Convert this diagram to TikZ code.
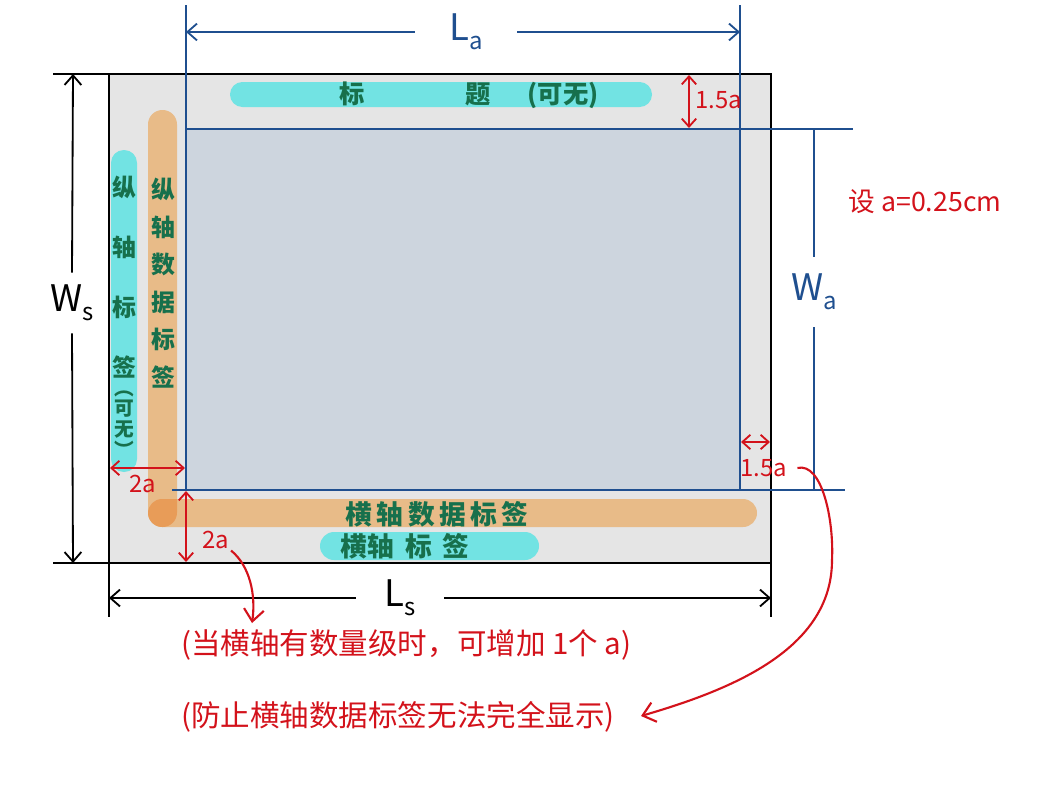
\documentclass[tikz,border=0pt]{standalone}
\usepackage{fontspec}
\setmainfont{Noto Sans CJK SC}
\usetikzlibrary{arrows.meta}
\definecolor{figgray}   {HTML}{E5E5E5}
\definecolor{plotgray}  {HTML}{CDD5DE}
\definecolor{axblue}    {HTML}{1F4F8F}
\definecolor{notered}   {HTML}{D3121B}
\definecolor{labgreen}  {HTML}{17704C}
\definecolor{barcyan}   {HTML}{72E3E3}
\definecolor{barorange} {HTML}{E8BB88}
\definecolor{cornerorg} {HTML}{E89C58}
\newcommand{\fsize}[1]{\fontsize{#1}{#1}\selectfont}
\newcommand{\dimsub}[2]{#1\raisebox{-0.25em}{\fsize{17}#2}}
\tikzset{
  frameline/.style ={draw=black, line width=1.6pt},
  axline/.style    ={draw=axblue, line width=1.3pt},
  bluehalf/.style  ={axline, -{Straight Barb[length=2.4mm,width=4.2mm]}},
  blackhalf/.style ={draw=black, line width=1.3pt, -{Straight Barb[length=2.4mm,width=4.2mm]}},
  reddim/.style    ={draw=notered, line width=1.3pt,
                     {Straight Barb[length=2mm,width=3.6mm]}-{Straight Barb[length=2mm,width=3.6mm]}},
  redcurve/.style  ={draw=notered, line width=1.5pt, -{Straight Barb[length=3mm,width=5mm]}},
  dimlab/.style    ={inner sep=0pt, font=\fsize{26}},
  redlab/.style    ={text=notered, inner sep=1pt, font=\fsize{17}},
  greenlab/.style  ={text=labgreen, inner sep=0pt},
  notetext/.style  ={text=notered, inner sep=0pt, font=\fsize{21}},
}
\begin{document}
\begin{tikzpicture}[x=0.025cm,y=-0.025cm]
  \useasboundingbox (0,0) rectangle (1057,789);

  % figure and plot area
  \coordinate (sNW) at (109,74);
  \coordinate (sNE) at (771,74);
  \coordinate (sSW) at (109,563);
  \coordinate (sSE) at (771,563);
  \coordinate (aNW) at (186,129);
  \coordinate (aNE) at (740,129);
  \coordinate (aSW) at (186,490);
  \coordinate (aSE) at (740,490);
  \fill[figgray] (sNW) rectangle (sSE);
  \fill[plotgray] (aNW) rectangle (aSE);

  % label bars
  \fill[barcyan,rounded corners=3.1mm] (230,82) rectangle (652,107);
  \fill[barcyan,rounded corners=3.2mm] (111,150) rectangle (137,472);
  \fill[barorange,rounded corners=3.6mm] (148,110) rectangle (177,527);
  \fill[barorange,rounded corners=3.5mm] (148,499) rectangle (757,527);
  \begin{scope}
    \clip[rounded corners=3.6mm] (148,110) rectangle (177,527);
    \fill[cornerorg,rounded corners=3.5mm] (148,499) rectangle (757,527);
  \end{scope}
  \fill[barcyan,rounded corners=3.5mm] (320,532) rectangle (539,560);

  % frame with extension lines
  \coordinate (wsTopExt) at (53,74);
  \coordinate (wsBotExt) at (53,563);
  \coordinate (lsLeftExt) at (109,617);
  \coordinate (lsRightExt) at (771,617);
  \draw[frameline] (sNW) rectangle (sSE);
  \draw[frameline] (wsTopExt) -- (sNW) (wsBotExt) -- (sSW)
                   (sSW) -- (lsLeftExt) (sSE) -- (lsRightExt);

  % plot box with extension lines
  \coordinate (laLeftExt) at (186,5);
  \coordinate (laRightExt) at (740,5);
  \coordinate (waTopExt) at (853,129);
  \coordinate (waBotExt) at (845,490);
  \coordinate (aSWExt) at (172,490);
  \draw[axline] (aNW) rectangle (aSE);
  \draw[axline] (laLeftExt) -- (aNW) (laRightExt) -- (aNE)
                (aNE) -- (waTopExt) (aSWExt) -- (aSE) -- (waBotExt);

  % L_a
  \coordinate (laL) at (186,32);
  \coordinate (laR) at (740,32);
  \node[dimlab,text=axblue,minimum width=2.55cm] (la) at (466,32) {\dimsub{L}{a}};
  \draw[bluehalf] (la.west) -- (laL);
  \draw[bluehalf] (la.east) -- (laR);

  % W_a
  \coordinate (waT) at (814,129);
  \coordinate (waB) at (814,490);
  \node[dimlab,text=axblue,minimum height=1.75cm] (wa) at (814,292) {\dimsub{W}{a}};
  \draw[axline] (wa.north) -- (waT);
  \draw[axline] (wa.south) -- (waB);

  % W_s
  \coordinate (wsT) at (73,74);
  \coordinate (wsB) at (73,563);
  \node[dimlab,minimum height=1.5cm] (ws) at (72,303) {\dimsub{W}{s}};
  \draw[blackhalf] (ws.north) -- (wsT);
  \draw[blackhalf] (ws.south) -- (wsB);

  % L_s
  \coordinate (lsL) at (109,598);
  \coordinate (lsR) at (771,598);
  \node[dimlab,minimum width=2.2cm] (ls) at (400,598) {\dimsub{L}{s}};
  \draw[blackhalf] (ls.west) -- (lsL);
  \draw[blackhalf] (ls.east) -- (lsR);

  % margins
  \coordinate (mTopA) at (689,75);
  \coordinate (mTopB) at (689,128);
  \coordinate (mRightA) at (741,442);
  \coordinate (mRightB) at (770,442);
  \coordinate (mLeftA) at (110,468);
  \coordinate (mLeftB) at (185,468);
  \coordinate (mBotA) at (186,491);
  \coordinate (mBotB) at (186,562);
  \draw[reddim] (mTopA) -- (mTopB);
  \draw[reddim] (mRightA) -- (mRightB);
  \draw[reddim] (mLeftA) -- (mLeftB);
  \draw[reddim] (mBotA) -- (mBotB);
  \node[redlab] (mTop) at (719,100) {1.5a};
  \node[redlab] (mRight) at (764,468) {1.5a};
  \node[redlab] (mLeft) at (143,484) {2a};
  \node[redlab] (mBottom) at (216,540) {2a};
  \node[redlab,font=\fsize{19}] (aval) at (925,202) {设 a=0.25cm};

  % bar labels
  \node[greenlab,font=\fsize{18}\bfseries,anchor=west] (title) at (339,95)
    {标\hspace{72pt}题\hspace{26pt}(可无)};
  \node[greenlab,font=\fsize{19}\bfseries] (xtick) at (437,514) {横\,轴\,数\,据\,标\,签};
  \node[greenlab,font=\fsize{19}\bfseries] (xlab) at (405,546) {横轴\hspace{8pt}标\hspace{8pt}签};
  \node[greenlab,align=center,font=\fontsize{17}{26.7}\selectfont\bfseries] (ytick) at (163,283)
    {纵\\轴\\数\\据\\标\\签};
  \node[greenlab,align=center,font=\fontsize{17}{42.7}\selectfont\bfseries] (ylab) at (124,277)
    {纵\\轴\\标\\签};
  \node[greenlab,align=center,font=\fontsize{14}{14.7}\selectfont\bfseries] (ylabopt) at (124,424)
    {︵\\可\\无\\︶};

  % notes
  \node[notetext,anchor=west] (note1) at (181,645) {(当横轴有数量级时，可增加 1个 a)};
  \node[notetext,anchor=west] (note2) at (181,717) {(防止横轴数据标签无法完全显示)};
  \coordinate (note1Tip) at (252,623);
  \coordinate (note2Tip) at (641,716);
  \draw[redcurve] (mBottom.south east) .. controls (250,566) and (256,595) .. (note1Tip);
  \draw[redcurve] ([xshift=6pt]mRight.east) .. controls (822,462) and (834,520) .. (832,560)
                  .. controls (832,650) and (730,690) .. (note2Tip);
\end{tikzpicture}
\end{document}
